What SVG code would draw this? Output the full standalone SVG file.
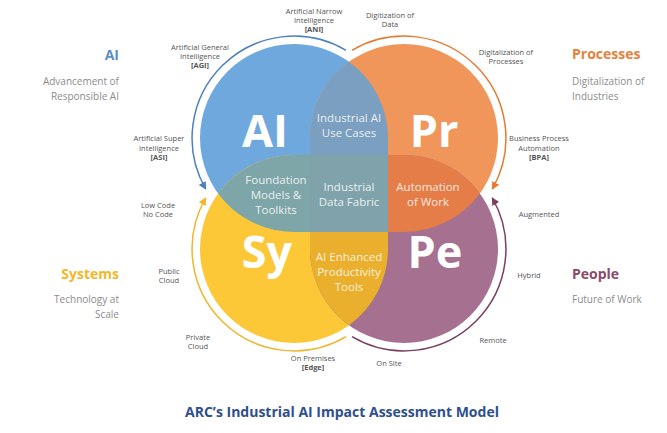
<svg xmlns="http://www.w3.org/2000/svg" width="667" height="433" viewBox="0 0 667 433">
<style>
text{font-family:"Open Sans","Noto Sans",sans-serif}
.big{font-size:45px;font-weight:700;fill:#fff;text-anchor:middle}
.mid{font-size:11.5px;fill:#fff;fill-opacity:.85;text-anchor:middle}
.sm{font-size:7.5px;fill:#555;text-anchor:middle}
.smb{font-size:7.5px;fill:#555;text-anchor:middle;font-weight:700}
.hd{font-size:14px;font-weight:700}
.sub{font-size:10px;fill:#8c8c8c}
.arc{fill:none;stroke-width:1.5}
</style>
<defs>
<marker id="mb" markerUnits="userSpaceOnUse" markerWidth="9" markerHeight="9" refX="7" refY="4" orient="auto"><path d="M0,0 L8,4 L0,8 Z" fill="#4d80c0"/></marker>
<marker id="mo" markerUnits="userSpaceOnUse" markerWidth="9" markerHeight="9" refX="7" refY="4" orient="auto"><path d="M0,0 L8,4 L0,8 Z" fill="#e57a30"/></marker>
<marker id="my" markerUnits="userSpaceOnUse" markerWidth="9" markerHeight="9" refX="7" refY="4" orient="auto"><path d="M0,0 L8,4 L0,8 Z" fill="#f0b52a"/></marker>
<marker id="mp" markerUnits="userSpaceOnUse" markerWidth="9" markerHeight="9" refX="7" refY="4" orient="auto"><path d="M0,0 L8,4 L0,8 Z" fill="#7b3e60"/></marker>
</defs>
<rect width="667" height="433" fill="#fff"/>

<g id="connectors">
<path class="arc" stroke="#4d80c0" d="M346,50.3 A102 102 0 0 0 205.7,189" marker-end="url(#mb)"/>
<path class="arc" stroke="#e57a30" d="M352,50.3 A102 102 0 0 1 492.3,189" marker-end="url(#mo)"/>
<path class="arc" stroke="#f0b52a" d="M346,336.7 A102 102 0 0 1 205.7,198" marker-end="url(#my)"/>
<path class="arc" stroke="#7b3e60" d="M352,336.7 A102 102 0 0 0 492.3,198" marker-end="url(#mp)"/>
</g>

<g id="node-ai"><circle cx="294" cy="138" r="94" fill="#6fa8dc"/></g>
<g id="node-pr"><circle cx="404" cy="138" r="94" fill="#f0965a"/></g>
<g id="node-sy"><circle cx="294" cy="249" r="94" fill="#fcc838"/></g>
<g id="node-pe"><circle cx="404" cy="249" r="94" fill="#a67190"/></g>

<g id="overlaps">
<path id="ov-usecases" fill="#7b9fc0" d="M349,61.8 A94 94 0 0 0 310,138 L310,193.5 L388,193.5 L388,138 A94 94 0 0 0 349,61.8 Z"/>
<path id="ov-tools" fill="#e9af2d" d="M310,193.5 L310,249 A94 94 0 0 0 349,325.2 A94 94 0 0 0 388,249 L388,193.5 Z"/>
<path id="ov-foundation" fill="#7ea5a8" d="M349,155 L294,155 A94 94 0 0 0 218.1,193.5 A94 94 0 0 0 294,232 L349,232 Z"/>
<path id="ov-automation" fill="#e47d48" d="M349,155 L404,155 A94 94 0 0 1 479.9,193.5 A94 94 0 0 1 404,232 L349,232 Z"/>
<rect id="ov-fabric" x="310" y="155" width="78" height="77" fill="#80a3ab"/>
</g>

<g id="big-labels">
<text class="big" x="265" y="147">AI</text>
<text class="big" x="434" y="147">Pr</text>
<text class="big" x="267" y="268">Sy</text>
<text class="big" x="435" y="268">Pe</text>
</g>

<g id="overlap-labels">
<text class="mid" x="349" y="122">Industrial AI</text>
<text class="mid" x="349" y="137">Use Cases</text>
<text class="mid" x="276" y="184">Foundation</text>
<text class="mid" x="276" y="199">Models &amp;</text>
<text class="mid" x="276" y="214">Toolkits</text>
<text class="mid" x="349" y="191">Industrial</text>
<text class="mid" x="349" y="206">Data Fabric</text>
<text class="mid" x="428" y="191">Automation</text>
<text class="mid" x="428" y="206">of Work</text>
<text class="mid" x="349" y="261">AI Enhanced</text>
<text class="mid" x="349" y="276">Productivity</text>
<text class="mid" x="349" y="291">Tools</text>
</g>

<g id="arc-labels">
<text class="sm" x="314" y="14">Artificial Narrow</text>
<text class="sm" x="314" y="23">Intelligence</text>
<text class="smb" x="314" y="32">[ANI]</text>
<text class="sm" x="390" y="18">Digitization of</text>
<text class="sm" x="390" y="27">Data</text>
<text class="sm" x="200" y="50">Artificial General</text>
<text class="sm" x="200" y="59">Intelligence</text>
<text class="smb" x="200" y="68">[AGI]</text>
<text class="sm" x="506" y="55">Digitalization of</text>
<text class="sm" x="506" y="64">Processes</text>
<text class="sm" x="159" y="141">Artificial Super</text>
<text class="sm" x="159" y="151">Intelligence</text>
<text class="smb" x="159" y="160">[ASI]</text>
<text class="sm" x="539" y="141">Business Process</text>
<text class="sm" x="539" y="151">Automation</text>
<text class="smb" x="539" y="160">[BPA]</text>
<text class="sm" x="158" y="208">Low Code</text>
<text class="sm" x="158" y="217">No Code</text>
<text class="sm" x="539" y="217">Augmented</text>
<text class="sm" x="169" y="274">Public</text>
<text class="sm" x="169" y="283">Cloud</text>
<text class="sm" x="529" y="278">Hybrid</text>
<text class="sm" x="198" y="340">Private</text>
<text class="sm" x="198" y="349">Cloud</text>
<text class="sm" x="493" y="343">Remote</text>
<text class="sm" x="313" y="361">On Premises</text>
<text class="smb" x="313" y="370">[Edge]</text>
<text class="sm" x="389" y="366">On Site</text>
</g>

<g id="side-ai" text-anchor="end">
<text class="hd" x="119" y="60" fill="#5b8fc7">AI</text>
<text class="sub" x="119" y="85">Advancement of</text>
<text class="sub" x="119" y="100">Responsible AI</text>
</g>
<g id="side-pr">
<text class="hd" x="572" y="59" fill="#e8803a">Processes</text>
<text class="sub" x="572" y="85">Digitalization of</text>
<text class="sub" x="572" y="100">Industries</text>
</g>
<g id="side-sy" text-anchor="end">
<text class="hd" x="119" y="279" fill="#f2b82a">Systems</text>
<text class="sub" x="119" y="303">Technology at</text>
<text class="sub" x="119" y="318">Scale</text>
</g>
<g id="side-pe">
<text class="hd" x="572" y="279" fill="#8b4a6a">People</text>
<text class="sub" x="572" y="303">Future of Work</text>
</g>

<text id="title" x="342" y="417" text-anchor="middle" font-size="14" font-weight="700" fill="#2f4f8f">ARC’s Industrial AI Impact Assessment Model</text>
</svg>
